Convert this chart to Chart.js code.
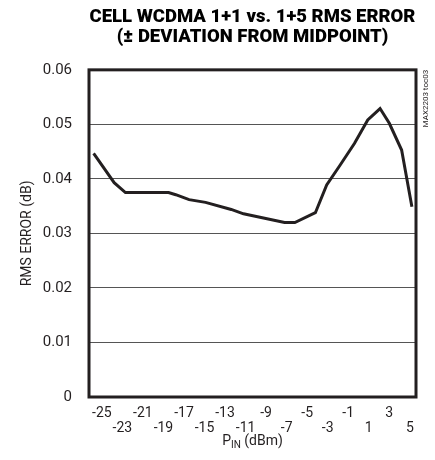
<!DOCTYPE html>
<html>
<head>
<meta charset="utf-8">
<script src="https://cdn.jsdelivr.net/npm/chart.js@4"></script>
<style>
  html, body { margin: 0; padding: 0; background: #fff; }
  #wrap { width: 435px; height: 460px; }
</style>
</head>
<body>
<div id="wrap"><canvas id="myChart" width="435" height="460"></canvas></div>
<script>
// values
const pinDbm = [-25.8, -23.8, -22.7, -18.5, -17.8, -16.5, -14.9, -12.4, -11.2, -7.2, -6.2, -4.2, -3.1, -1.8, -0.4, 0.9, 2.1, 3.0, 4.2, 5.2];
const rmsError = [0.0447, 0.0393, 0.0375, 0.0375, 0.0371, 0.0362, 0.0357, 0.0344, 0.0336, 0.0320, 0.0320, 0.0338, 0.0389, 0.0425, 0.0465, 0.0508, 0.0529, 0.0502, 0.0453, 0.0349];
const xTicks = [-25, -23, -21, -19, -17, -15, -13, -11, -9, -7, -5, -3, -1, 1, 3, 5];
const yTicks = [0, 0.01, 0.02, 0.03, 0.04, 0.05, 0.06];

const titleLines = ['CELL WCDMA 1+1 vs. 1+5 RMS ERROR', '(\u00B1 DEVIATION FROM MIDPOINT)'];
const ink = '#231f20';
const narrow = "Roboto, sans-serif";

const framePlugin = {
    id: 'frame',
    afterDraw(chart) {
        const { ctx, chartArea: a } = chart;
        ctx.save();
        // plot frame
        ctx.strokeStyle = ink;
        ctx.lineWidth = 3;
        ctx.strokeRect(a.left, a.top, a.right - a.left, a.bottom - a.top);

        // x axis title with subscript
        const cx = (a.left + a.right) / 2;
        const y = 441;
        ctx.fillStyle = ink;
        ctx.textBaseline = 'middle';
        const big = '14px ' + narrow;
        const small = '10px ' + narrow;
        ctx.font = big;
        const wP = ctx.measureText('P').width;
        const wRest = ctx.measureText(' (dBm)').width;
        ctx.font = small;
        const wIn = ctx.measureText('IN').width;
        let x = cx - (wP + wIn + wRest) / 2;
        ctx.textAlign = 'left';
        ctx.font = big;
        ctx.fillText('P', x, y);
        x += wP;
        ctx.font = small;
        ctx.fillText('IN', x, y + 4);
        x += wIn;
        ctx.font = big;
        ctx.fillText(' (dBm)', x, y);

        // side note
        ctx.translate(426, a.top);
        ctx.rotate(-Math.PI / 2);
        ctx.font = '8px ' + narrow;
        ctx.textAlign = 'right';
        ctx.fillText('MAX2203 toc03', 0, 0);
        ctx.restore();
    }
};

const ctx = document.getElementById('myChart').getContext('2d');
const myChart = new Chart(ctx, {
    type: 'line',
    data: {
        datasets: [{
            data: pinDbm.map((v, i) => ({ x: v, y: rmsError[i] })),
            borderColor: ink,
            borderWidth: 3,
            pointRadius: 0,
            tension: 0,
            fill: false
        }]
    },
    options: {
        responsive: false,
        animation: false,
        layout: { padding: { left: 0, right: 19, top: 0, bottom: 0 } },
        plugins: {
            legend: { display: false },
            tooltip: { enabled: false },
            title: {
                display: true,
                fullSize: false,
                text: titleLines,
                color: '#000',
                font: { family: narrow, size: 18.5, weight: 900, lineHeight: 1.05 },
                padding: { top: 8, bottom: 23 }
            }
        },
        scales: {
            x: {
                type: 'linear',
                min: -26.25,
                max: 5.6,
                afterBuildTicks: s => { s.ticks = xTicks.map(v => ({ value: v })); },
                afterFit: s => { s.height = 63; },
                grid: { display: false, drawTicks: false },
                border: { display: false },
                ticks: {
                    color: ink,
                    padding: 9,
                    maxRotation: 0,
                    autoSkip: false,
                    font: { family: narrow, size: 14, lineHeight: 1.05 },
                    callback: (v, i) => i % 2 === 0 ? [String(v), ''] : ['', String(v)]
                }
            },
            y: {
                min: 0,
                max: 0.06,
                afterBuildTicks: s => { s.ticks = yTicks.map(v => ({ value: v })); },
                afterFit: s => { s.width = 89; },
                grid: { color: '#555', lineWidth: 1, drawTicks: false },
                border: { display: false },
                ticks: {
                    color: ink,
                    padding: 17,
                    font: { family: narrow, size: 15 },
                    callback: v => v === 0 ? '0' : v.toFixed(2)
                },
                title: {
                    display: true,
                    text: 'RMS ERROR (dB)',
                    color: ink,
                    font: { family: narrow, size: 14 },
                    padding: { top: 19, bottom: 0 }
                }
            }
        }
    },
    plugins: [framePlugin]
});
</script>
</body>
</html>
